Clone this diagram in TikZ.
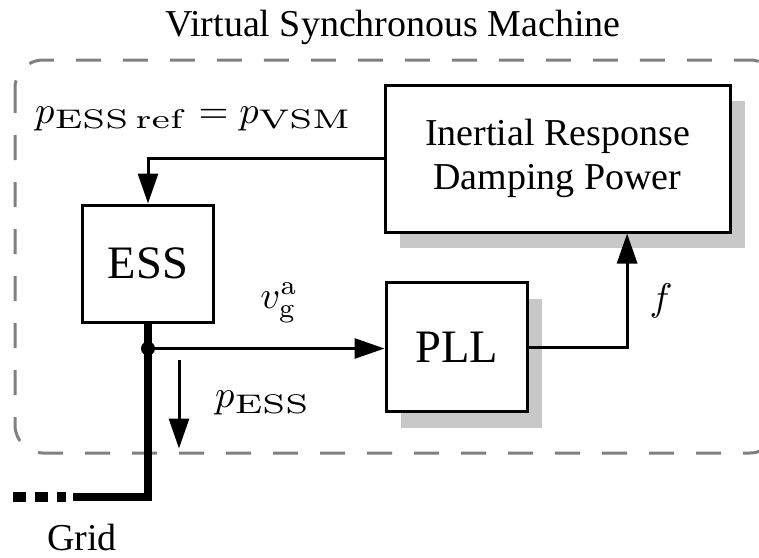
\RequirePackage{fix-cm}
\documentclass[tikz,border=0pt]{standalone}
\usepackage[no-math]{fontspec}
\setmainfont{Liberation Serif}
\newfontfamily\tms{Liberation Serif}
\usetikzlibrary{arrows.meta,calc}
\definecolor{shadowgray}{RGB}{200,200,200}
\definecolor{framegray}{RGB}{128,128,128}
% wide upright subscript
\newcommand\wsub[1]{\scalebox{1.35}[1]{$\scriptstyle\mathrm{#1}$}}
\begin{document}
\begin{tikzpicture}[x=1pt,y=-1pt,
  block/.style={draw,line width=3pt,fill=white,inner sep=0pt},
  shadowed/.style={block,
    preaction={fill=shadowgray,draw=none,transform canvas={shift={(15pt,-16pt)}}}},
  arr/.style={line width=3pt,-{Triangle[length=30pt,width=20pt]}},
  frame/.style={draw=framegray,line width=3pt,dash pattern=on 25pt off 22pt,rounded corners=28pt},
  txt/.style={font=\tms\fontsize{38}{44}\selectfont},
  bigtxt/.style={font=\tms\fontsize{46.5}{54}\selectfont},
  mth/.style={inner sep=0pt},
]
\useasboundingbox (0,0) rectangle (759,557);
\clip (0,0) rectangle (759,557);

% dashed frame of the virtual machine
\draw[frame] (15,60) rectangle (778,453);
\node[txt] (title) at (393,27) {Virtual Synchronous Machine};

% blocks
\node[shadowed,minimum width=345pt,minimum height=147pt,align=center,
      font=\tms\fontsize{38}{44}\selectfont] (irdp) at (557.5,158.5)
      {Inertial Response\\Damping Power};
\node[block,minimum width=131pt,minimum height=117pt,bigtxt] (ess) at (148,263.5) {ESS};
\node[shadowed,minimum width=141pt,minimum height=129pt,bigtxt] (pll) at (456.5,347) {PLL};

% reference power from the VSM to the ESS
\draw[arr] (irdp.west) -| (ess.north);
\node[mth,anchor=base west] (pref) at (35,123)
  {\scalebox{3.85}{$p_{\wsub{ESS\,ref}} = p_{\wsub{VSM}}$}};

% grid connection
\coordinate (jn) at ($(ess.south)+(0,25)$);
\coordinate (gridend) at ($(ess.south)+(-75,173)$);
\coordinate (gridtip) at ($(gridend)+(-60,0)$);
\draw[line width=8pt] (ess.south) |- (gridend);
\draw[line width=10pt,dash pattern=on 0pt off 7pt on 9pt off 9pt on 13pt off 9pt on 13pt off 20pt]
  (gridend) -- (gridtip);
\fill (jn) circle (7pt);
\node[txt] (grid) at (82,537) {Grid};

% measured voltage to the PLL
\draw[arr] (jn) -- (jn -| pll.west);
\node[mth] (vga) at (279,303) {\scalebox{3.85}{$v_{\mathrm{g}}^{\mathrm{a}}$}};

% power flow into the grid
\coordinate (pa) at ($(jn)+(31,11)$);
\coordinate (pb) at ($(jn)+(31,100)$);
\draw[arr] (pa) -- (pb);
\node[mth,anchor=west] (pess) at (215,403) {\scalebox{3.85}{$p_{\wsub{ESS}}$}};

% frequency to the inertial response block
\coordinate (fin) at ($(irdp.south west)!0.7!(irdp.south east)$);
\draw[arr] (pll.east) -| (fin);
\node[mth] (flab) at (661,301) {\scalebox{3.85}{$f$}};
\end{tikzpicture}
\end{document}
